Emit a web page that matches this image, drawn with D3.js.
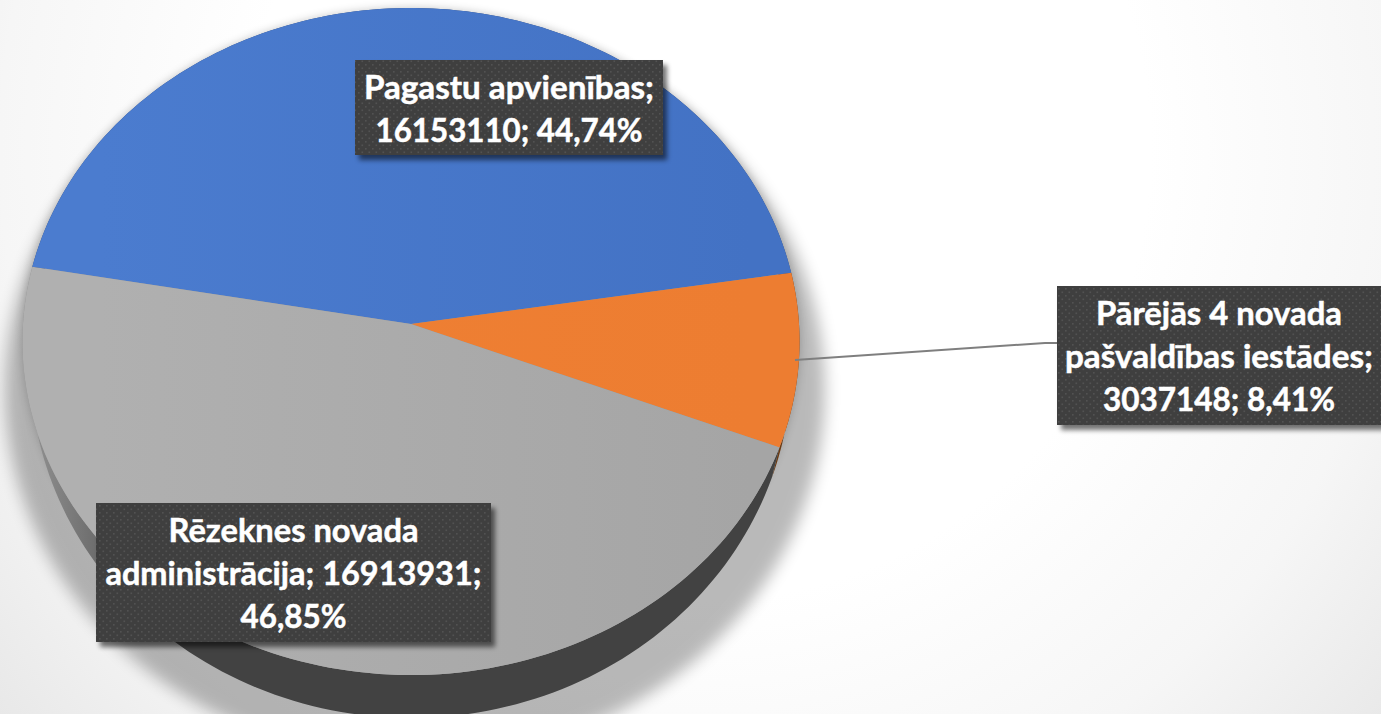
<!DOCTYPE html>
<html>
<head>
<meta charset="utf-8">
<script src="https://cdnjs.cloudflare.com/ajax/libs/d3/7.8.5/d3.min.js"></script>
<style>
html, body { margin: 0; padding: 0; background: #fff; overflow: hidden; }
text { font-family: Lato, "Open Sans", sans-serif; font-weight: 700; fill: #fff; stroke: #fff; stroke-width: 0.5px; }
</style>
</head>
<body>
<div id="chart"></div>
<script>
var categories = ["Pagastu apvienības", "Pārējās 4 novada pašvaldības iestādes", "Rēzeknes novada administrācija"];
var values = [16153110, 3037148, 16913931];
var percents = ["44,74%", "8,41%", "46,85%"];
var sliceLeft = ["#4b7ccf", "#ef8034", "#b0b0b0"];
var sliceRight = ["#4372c4", "#ed7d31", "#a5a5a5"];
var wallColors = ["#2c4a80", "#6b3a12", "url(#wallGrad)"];
var labelLines = [
    ["Pagastu apvienības;", "16153110; 44,74%"],
    ["Pārējās 4 novada", "pašvaldības iestādes;", "3037148; 8,41%"],
    ["Rēzeknes novada", "administrācija; 16913931;", "46,85%"]
];

var width = 1381, height = 714;

// the pie is tilted, so the centre sits above the middle of the ellipse
var topRim = {cx: 411, cy: 324, a: 388, b: 332.6, k: 0.0525};
var bottomRim = {cx: 411, cy: 347.5, a: 380, b: 351, k: 0.0525};
var shadowRim = {cx: 415, cy: 390, a: 410, b: 370, k: 0};

function rimPoint(rim, angle) {
    var u = Math.sin(angle), v = -Math.cos(angle);
    var d = 1 - rim.k * v;
    return [rim.cx + rim.a * u / d, rim.cy + rim.b * v / d];
}

function sampleAngles(a0, a1) {
    return d3.range(0, 121).map(function(i) { return a0 + (a1 - a0) * i / 120; });
}

var svg = d3.select("#chart").append("svg")
    .attr("width", width)
    .attr("height", height)
    .style("display", "block");

var defs = svg.append("defs");

var bg = defs.append("radialGradient").attr("id", "bgGrad")
    .attr("gradientUnits", "userSpaceOnUse")
    .attr("cx", 700).attr("cy", 150).attr("r", 1000);
bg.append("stop").attr("offset", "0.45").attr("stop-color", "#ffffff");
bg.append("stop").attr("offset", "0.7").attr("stop-color", "#f6f6f6");
bg.append("stop").attr("offset", "0.9").attr("stop-color", "#e8e8e8");

var wall = defs.append("linearGradient").attr("id", "wallGrad")
    .attr("gradientUnits", "userSpaceOnUse")
    .attr("x1", 40).attr("y1", 0).attr("x2", 175).attr("y2", 0);
wall.append("stop").attr("offset", "0").attr("stop-color", "#8c8c8c");
wall.append("stop").attr("offset", "1").attr("stop-color", "#424242");

sliceLeft.forEach(function(c, i) {
    var g = defs.append("linearGradient").attr("id", "sliceGrad" + i)
        .attr("gradientUnits", "userSpaceOnUse")
        .attr("x1", 100).attr("y1", 0).attr("x2", 750).attr("y2", 0);
    g.append("stop").attr("offset", "0").attr("stop-color", c);
    g.append("stop").attr("offset", "1").attr("stop-color", sliceRight[i]);
});

defs.append("filter").attr("id", "pieShadow")
    .attr("x", "-10%").attr("y", "-10%").attr("width", "120%").attr("height", "120%")
    .append("feGaussianBlur").attr("stdDeviation", 8);

defs.append("filter").attr("id", "edgeShadow")
    .attr("x", "-10%").attr("y", "-10%").attr("width", "120%").attr("height", "120%")
    .append("feGaussianBlur").attr("stdDeviation", 5);

defs.append("filter").attr("id", "boxShadow")
    .attr("x", "-10%").attr("y", "-15%").attr("width", "120%").attr("height", "130%")
    .append("feGaussianBlur").attr("stdDeviation", 2.5);

var dots = defs.append("pattern").attr("id", "dots")
    .attr("patternUnits", "userSpaceOnUse").attr("width", 7).attr("height", 7);
dots.append("rect").attr("width", 7).attr("height", 7).attr("fill", "#3f3f3f");
dots.append("rect").attr("x", 1).attr("y", 1).attr("width", 1.6).attr("height", 1.6).attr("fill", "#525252");
dots.append("rect").attr("x", 4.5).attr("y", 4.5).attr("width", 1.6).attr("height", 1.6).attr("fill", "#525252");

svg.append("rect").attr("width", width).attr("height", height).attr("fill", "url(#bgGrad)");

var pie = d3.pie().sort(null).startAngle(-80 * Math.PI / 180).endAngle(280 * Math.PI / 180);
var arcs = pie(values);
var line = d3.line();

// soft shadow behind the whole pie
var outline = sampleAngles(0, Math.PI * 2);
svg.append("path")
    .attr("d", line(outline.map(function(a) { return rimPoint(shadowRim, a); })) + "Z")
    .attr("fill", "#000").attr("opacity", 0.27)
    .attr("filter", "url(#pieShadow)");
svg.append("path")
    .attr("d", line(outline.map(function(a) { return rimPoint(topRim, a); })) + "Z")
    .attr("fill", "#000").attr("opacity", 0.2)
    .attr("filter", "url(#edgeShadow)");

// side wall
svg.selectAll(".wall")
    .data(arcs)
    .enter()
    .append("path")
    .attr("class", "wall")
    .attr("fill", function(d, i) { return wallColors[i]; })
    .attr("d", function(d) {
        var angles = sampleAngles(d.startAngle, d.endAngle);
        var front = angles.map(function(a) { return rimPoint(topRim, a); });
        var back = angles.slice().reverse().map(function(a) { return rimPoint(bottomRim, a); });
        return line(front.concat(back)) + "Z";
    });

// top face
svg.selectAll(".slice")
    .data(arcs)
    .enter()
    .append("path")
    .attr("class", "slice")
    .attr("fill", function(d, i) { return "url(#sliceGrad" + i + ")"; })
    .attr("d", function(d) {
        var pts = sampleAngles(d.startAngle, d.endAngle).map(function(a) { return rimPoint(topRim, a); });
        return line([[topRim.cx, topRim.cy]].concat(pts)) + "Z";
    });

// leader line of the small slice
var leaderPoints = [[795, 360], [1045, 343], [1057, 343]];
svg.append("path")
    .attr("d", line(leaderPoints))
    .attr("fill", "none")
    .attr("stroke", "#7f7f7f")
    .attr("stroke-width", 2);

// widths per line: Lato digits run wider than the original font
var boxes = [
    {x: 355, y: 60, w: 308, h: 95, textW: [290, 267]},
    {x: 1057, y: 286, w: 324, h: 139, textW: [246, 308, 232]},
    {x: 96, y: 503, w: 395, h: 139, textW: [250, 376, 106]}
];
var lineStep = 43;

var label = svg.selectAll(".label")
    .data(labelLines)
    .enter()
    .append("g")
    .attr("class", "label");

label.append("rect")
    .attr("x", function(d, i) { return boxes[i].x + 4; })
    .attr("y", function(d, i) { return boxes[i].y + 5; })
    .attr("width", function(d, i) { return boxes[i].w; })
    .attr("height", function(d, i) { return boxes[i].h; })
    .attr("fill", "#000").attr("opacity", 0.55)
    .attr("filter", "url(#boxShadow)");

label.append("rect")
    .attr("x", function(d, i) { return boxes[i].x; })
    .attr("y", function(d, i) { return boxes[i].y; })
    .attr("width", function(d, i) { return boxes[i].w; })
    .attr("height", function(d, i) { return boxes[i].h; })
    .attr("fill", "url(#dots)");

label.each(function(lines, i) {
    var b = boxes[i];
    var top = b.y + b.h / 2 - lines.length * lineStep / 2;
    d3.select(this).selectAll("text")
        .data(lines)
        .enter()
        .append("text")
        .attr("x", b.x + b.w / 2)
        .attr("y", function(d, j) { return top + lineStep * j + 34; })
        .attr("text-anchor", "middle")
        .attr("font-size", 33)
        .attr("textLength", function(d, j) { return b.textW[j]; })
        .attr("lengthAdjust", "spacingAndGlyphs")
        .text(function(d) { return d; });
});
</script>
</body>
</html>
